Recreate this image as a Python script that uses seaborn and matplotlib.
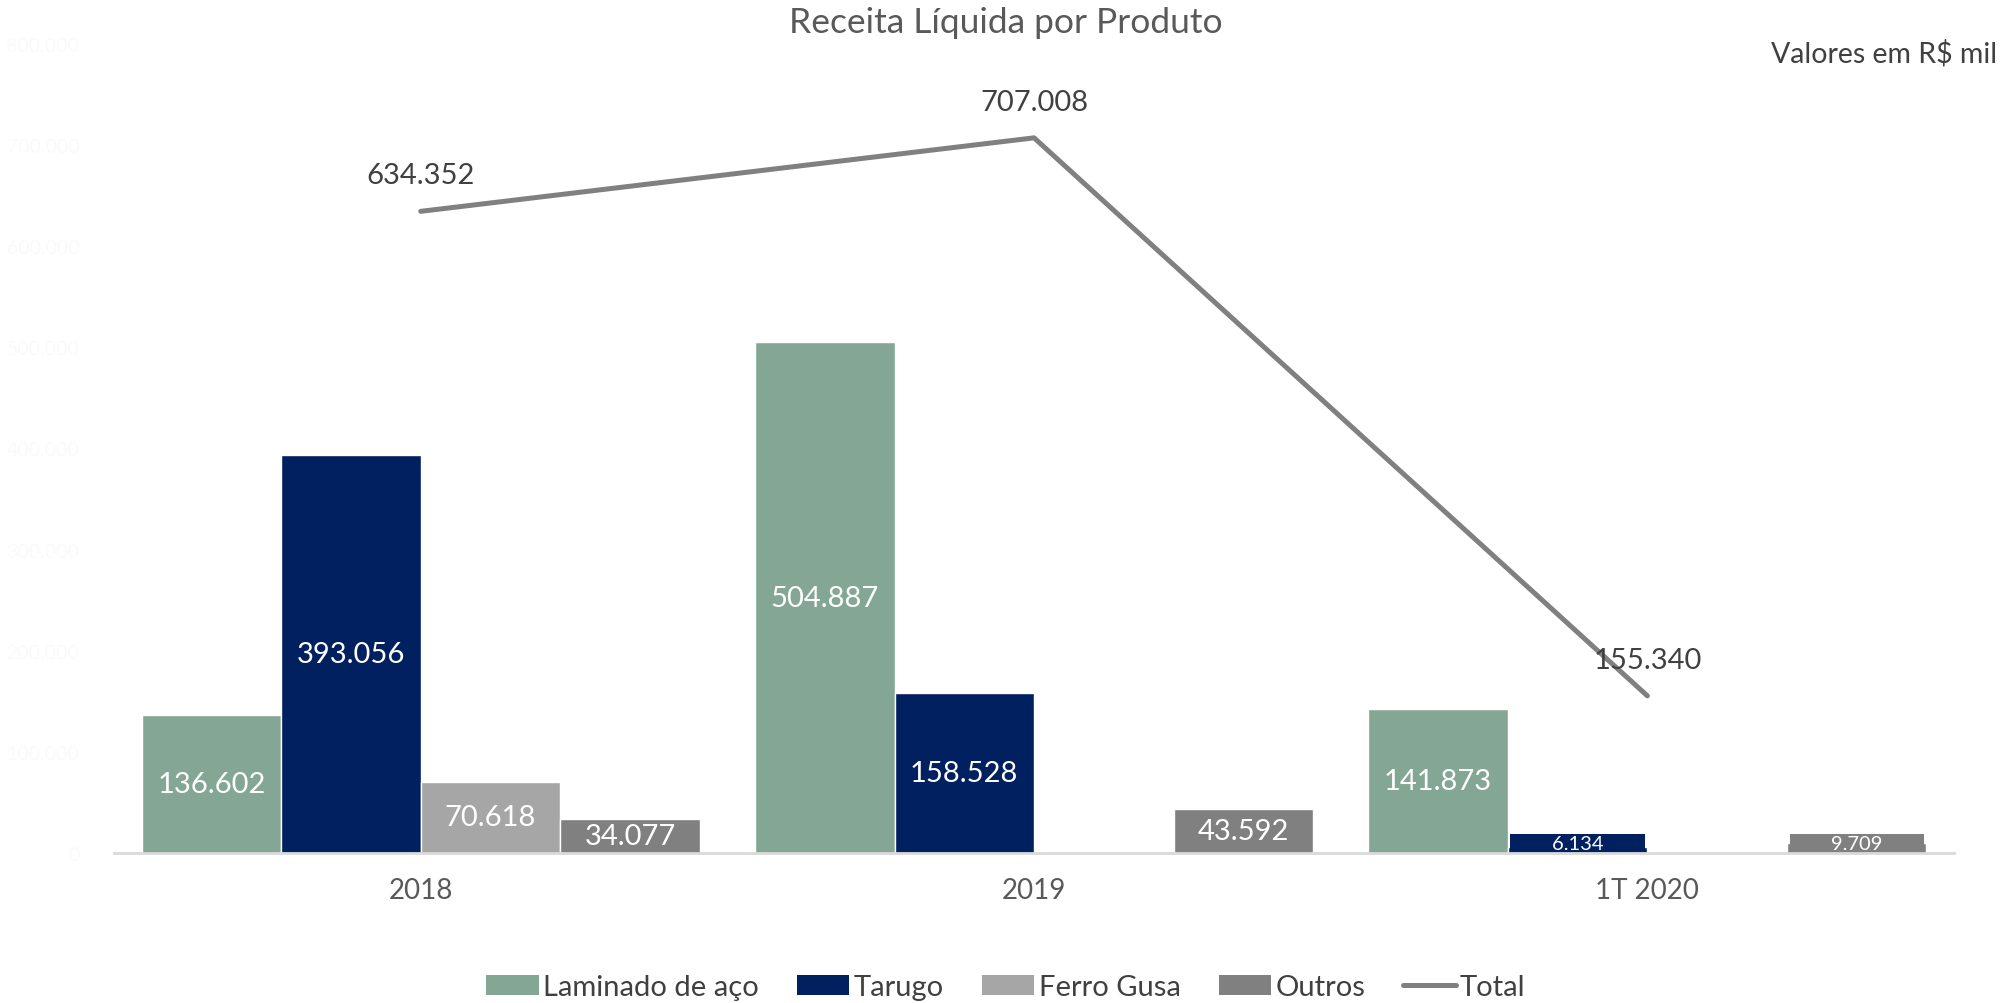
# Receita Liquida por Produto - bar + line chart
import numpy as np
import pandas as pd
import matplotlib
matplotlib.use("Agg")
import matplotlib.pyplot as plt
import seaborn as sns
from matplotlib.patches import Patch
from matplotlib.lines import Line2D

sns.set_theme(style="white")
plt.rcParams['font.family'] = ['Lato', 'DejaVu Sans']

# data (R$ mil)
years = ["2018", "2019", "1T 2020"]
products = ["Laminado de aço", "Tarugo", "Ferro Gusa", "Outros"]
laminado = [136602, 504887, 141873]
tarugo = [393056, 158528, 6134]
ferro_gusa = [70618, None, None]
outros = [34077, 43592, 9709]
total = [634352, 707008, 155340]

colors = {"Laminado de aço": "#84a795", "Tarugo": "#002060",
          "Ferro Gusa": "#a6a6a6", "Outros": "#808080"}
line_color = "#808080"

def fmt(v):
    return f"{v:,.0f}".replace(",", ".")

# long format, skip empty cells
rows = []
for prod, vals in zip(products, [laminado, tarugo, ferro_gusa, outros]):
    for yr, v in zip(years, vals):
        if v is not None:
            rows.append({"Ano": yr, "Produto": prod, "Valor": v})
df = pd.DataFrame(rows)

fig = plt.figure(figsize=(20.12, 10.04), dpi=100)
ax = fig.add_axes([0.0567, 0.1494, 0.9145, 0.806])

sns.barplot(data=df, x="Ano", y="Valor", hue="Produto", order=years,
            hue_order=products, palette=colors, width=0.91, gap=0,
            saturation=1, legend=False, ax=ax)

x = np.arange(len(years))
ax.plot(x, total, color=line_color, lw=3.6, solid_capstyle="round", label="Total")
for xi, v in zip(x, total):
    ax.annotate(fmt(v), (xi, v), xytext=(0, 26), textcoords="offset points",
                ha="center", va="center", fontsize=21, color="#404040")

# bar labels (tiny bars get a coloured band behind the label)
pad = " " * 8
for cont, prod in zip(ax.containers, products):
    for bar in cont:
        h = bar.get_height()
        if np.isnan(h) or h == 0:
            continue
        cx = bar.get_x() + bar.get_width() / 2
        if h < 20000:
            ax.annotate(pad + fmt(h) + pad, (cx, 0), xytext=(0, 7), textcoords="offset points",
                        ha="center", va="center", fontsize=14.5, color="white",
                        bbox=dict(boxstyle="square,pad=0.02", fc=colors[prod], ec="none"))
        else:
            ax.text(cx, h / 2, fmt(h), ha="center", va="center",
                    fontsize=21, color="white")

ax.set_xlim(-0.5, 2.5)
ax.set_ylim(0, 800000)
ax.set_yticks(np.arange(0, 800001, 100000))
ax.set_yticklabels([fmt(t) for t in np.arange(0, 800001, 100000)], color="#fafafa", fontsize=14)
ax.tick_params(axis="x", length=0, pad=17, labelsize=20, labelcolor="#595959")
ax.tick_params(axis="y", length=0, pad=25)
ax.set_xlabel("")
ax.set_ylabel("")
for s in ["top", "right", "left"]:
    ax.spines[s].set_visible(False)
ax.spines["bottom"].set_color("#d9d9d9")
ax.spines["bottom"].set_linewidth(2)

fig.text(0.5, 1 - 23 / 1004, "Receita Líquida por Produto", ha="center", va="center",
         fontsize=25.5, color="#595959")
fig.text(1997 / 2012, 1 - 54 / 1004, "Valores em R$ mil", ha="right", va="center",
         fontsize=20.5, color="#404040")

handles = [Patch(facecolor=colors[p], edgecolor="none") for p in products]
handles.append(Line2D([0], [0], color=line_color, lw=3.6, solid_capstyle="round"))
fig.legend(handles, products + ["Total"], loc="center", bbox_to_anchor=(0.5, 0.016),
           ncol=5, frameon=False, fontsize=21, handlelength=1.8, handleheight=0.7,
           handletextpad=0.15, columnspacing=1.3, labelcolor="#404040")

fig.savefig("out.png", dpi=100, facecolor="white")
